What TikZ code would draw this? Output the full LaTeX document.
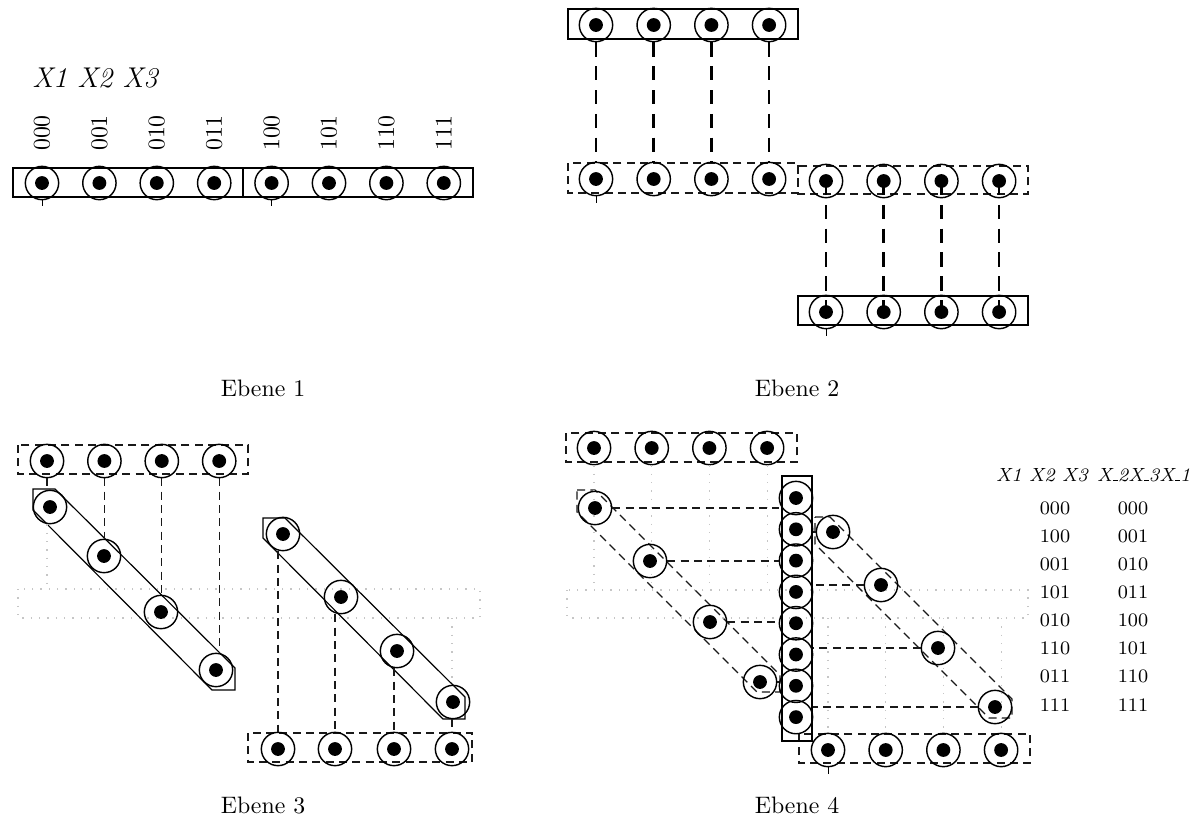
\documentclass[tikz,border=0pt]{standalone}
\usepackage{tikz}
\usetikzlibrary{calc, positioning}

\newcommand{\tiefstrich}{\leavevmode\kern.03em\vbox{\hrule width.26em}}

\tikzset{
  zelle/.style={circle, draw, semithick, minimum size=14pt, inner sep=0pt,
    path picture={\fill (path picture bounding box.center) circle (2.9pt);}},
  rahmen/.style={draw, line width=0.5pt},
  strich/.style={line width=0.55pt, black!90, dash pattern=on 3.4pt off 2.2pt},
  dickstrich/.style={line width=1.1pt, dash pattern=on 6pt off 4pt},
  geist/.style={gray!45, line width=0.5pt, dash pattern=on 0.5pt off 3pt},
}

\begin{document}
\begin{tikzpicture}[x=0.42pt, y=-0.42pt]
    \useasboundingbox (0,0) rectangle (1199,824);

    % Ebene 1
    \draw[rahmen] (13,168) rectangle (243,197);
    \draw[rahmen] (243,168) rectangle (473,197);
    \foreach \b [count=\i] in {000,001,010,011,100,101,110,111} {
        \node[zelle] (a\i) at ({42+57.4*(\i-1)},183) {};
        \node[rotate=90] (l\i) at ({42+57.4*(\i-1)},133) {\b};
    }
    \node (kopf1) at (95,78) {\large\itshape X1 X2 X3};
    \draw (a1.south) -- ++(0,6);
    \draw (a5.south) -- ++(0,6);
    \node (ebene1) at (263,388) {Ebene 1};

    % Ebene 2
    \draw[rahmen] (568,9) rectangle (798,39);
    \draw[strich] (568,163) rectangle (798,193);
    \draw[strich] (798,166) rectangle (1028,194);
    \draw[rahmen] (798,296) rectangle (1028,325);
    \foreach \i in {1,...,4} {
        \node[zelle] (p\i) at ({596+57.7*(\i-1)},25) {};
        \node[zelle] (q\i) at ({596+57.7*(\i-1)},179) {};
        \node[zelle] (r\i) at ({826+57.7*(\i-1)},181) {};
        \node[zelle] (s\i) at ({826+57.7*(\i-1)},312) {};
        \draw[dickstrich] (p\i.south) -- (q\i.north);
        \draw[dickstrich] (r\i.center) -- (s\i.center);
    }
    \draw (q1.south) -- ++(0,7);
    \draw (s1.south) -- ++(0,7);
    \node (ebene2) at (797,388) {Ebene 2};

    % Ebene 3
    \coordinate (g3o) at (18,589);
    \coordinate (g3u) at (480,618);
    \draw[geist] (g3o) rectangle (g3u);
    \draw[strich] (18,445) rectangle (248,474);
    \draw[strich] (248,733) rectangle (472,762);
    \draw[rahmen] (33,489) -- (55,489) -- (235,668) -- (235,690) -- (212,690) -- (33,510) -- cycle;
    \draw[rahmen] (263,518) -- (285,518) -- (465,697) -- (465,719) -- (443,719) -- (263,538) -- cycle;
    \foreach \i in {1,...,4}
        \node[zelle] (t\i) at ({47+57.4*(\i-1)},461) {};
    \foreach \i/\x/\y in {1/50/507, 2/104/556, 3/161/612, 4/216/670}
        \node[zelle] (u\i) at (\x,\y) {};
    \foreach \i/\x/\y in {1/283/534, 2/341/597, 3/397/651, 4/453/702}
        \node[zelle] (v\i) at (\x,\y) {};
    \foreach \i/\x in {1/278, 2/335, 3/394, 4/452}
        \node[zelle] (w\i) at (\x,749) {};
    \foreach \i in {1,...,4} {
        \draw[strich] (t\i.south) -- (t\i.south |- u\i.north);
        \draw[strich] (w\i.north |- v\i.south) -- (w\i.north);
    }
    \draw[geist] (t1.south |- u1.south) -- (t1.south |- g3o);
    \draw[geist] (w4.north |- g3u) -- (w4.north |- v4.north);
    \node (ebene3) at (263,805) {Ebene 3};

    % Ebene 4
    \coordinate (g4o) at (567,590);
    \coordinate (g4u) at (1028,618);
    \draw[geist] (g4o) rectangle (g4u);
    \draw[strich] (566,433) rectangle (797,462);
    \draw[strich] (799,734) rectangle (1030,763);
    \draw[strich] (577,490) -- (595,490) -- (780,675) -- (780,692) -- (757,692) -- (577,512) -- cycle;
    \draw[strich] (815,517) -- (830,517) -- (1012,699) -- (1012,718) -- (989,718) -- (815,544) -- cycle;
    \draw[rahmen] (782,476) rectangle (812,741);
    \foreach \i in {1,...,4} {
        \node[zelle] (x\i) at ({594+57.7*(\i-1)},448) {};
        \node[zelle] (h\i) at ({828+57.7*(\i-1)},750) {};
        \draw[geist] (x\i.south) -- (x\i.south |- g4o);
        \draw[geist] (h\i.north |- g4u) -- (h\i.north);
    }
    \foreach \k in {1,...,8}
        \node[zelle] (z\k) at (796,{498+31.3*(\k-1)}) {};
    \foreach \i/\x/\y in {1/595/508, 2/650/561, 3/710/622, 4/760/682}
        \node[zelle] (y\i) at (\x,\y) {};
    \foreach \i/\x/\y in {1/833/532, 2/881/585, 3/938/648, 4/995/707}
        \node[zelle] (rd\i) at (\x,\y) {};
    \foreach \i/\k in {1/1, 2/3, 3/5, 4/7}
        \draw[strich] (y\i.east) -- (y\i.east -| z\k.west);
    \foreach \i/\k in {1/2, 2/4, 3/6, 4/8}
        \draw[strich] (rd\i.west) -- (rd\i.west -| z\k.east);
    \draw (h1.south) -- ++(0,7);
    \node (ebene4) at (797,805) {Ebene 4};

    % Tabelle
    \node (kopf2) at (1042,475) {\footnotesize\itshape X1 X2 X3};
    \node[anchor=east] (kopf3) at (1199,475) {\footnotesize\itshape X\tiefstrich2X\tiefstrich3X\tiefstrich1};
    \foreach \a/\b [count=\i] in {000/000, 100/001, 001/010, 101/011, 010/100, 110/101, 011/110, 111/111} {
        \node[font=\footnotesize] (alt\i) at (1055,{508+28.1*(\i-1)}) {\a};
        \node[font=\footnotesize] (neu\i) at (1133,{508+28.1*(\i-1)}) {\b};
    }
\end{tikzpicture}
\end{document}
